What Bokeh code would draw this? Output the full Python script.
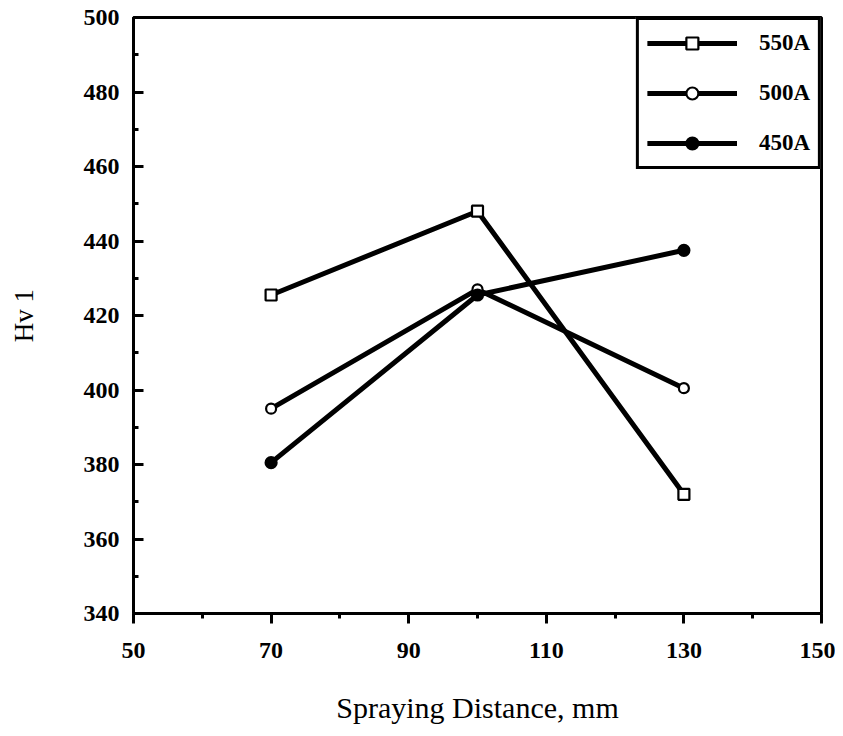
from bokeh.plotting import figure
from bokeh.models import Legend, LegendItem, Range1d, FixedTicker
from bokeh.embed import file_html
from bokeh.resources import INLINE

# ---- data ----
distance = [70, 100, 130]
hv_550 = [425.5, 448.0, 372.0]
hv_500 = [395.0, 427.0, 400.5]
hv_450 = [380.5, 425.5, 437.5]
series_labels = ["550A", "500A", "450A"]
x_ticks = [50, 70, 90, 110, 130, 150]
x_minor = [60, 80, 100, 120, 140]
y_ticks = [340, 360, 380, 400, 420, 440, 460, 480, 500]
y_minor = [350, 370, 390, 410, 430, 450, 470, 490]

FONT = "Liberation Serif"

p = figure(width=835, height=728, output_backend="svg", toolbar_location=None,
           x_range=Range1d(50, 150), y_range=Range1d(340, 500),
           min_border_left=133, min_border_right=14, min_border_top=17, min_border_bottom=115,
           background_fill_color="white", border_fill_color="white")

p.grid.visible = False
p.outline_line_color = "black"
p.outline_line_width = 3

# axes
p.xaxis.ticker = FixedTicker(ticks=x_ticks, minor_ticks=x_minor)
p.yaxis.ticker = FixedTicker(ticks=y_ticks, minor_ticks=y_minor)
for ax in (p.xaxis, p.yaxis):
    ax.axis_line_width = 3
    ax.axis_line_color = "black"
    ax.major_tick_line_width = 3
    ax.minor_tick_line_width = 3
    ax.major_tick_line_color = "black"
    ax.minor_tick_line_color = "black"
    ax.major_label_text_font = FONT
    ax.major_label_text_font_style = "bold"
    ax.major_label_text_font_size = "24px"
    ax.major_label_text_color = "black"
    ax.axis_label_text_font = FONT
    ax.axis_label_text_font_style = "normal"
    ax.axis_label_text_color = "black"

p.xaxis.major_tick_in = 0
p.xaxis.major_tick_out = 10
p.xaxis.minor_tick_in = 0
p.xaxis.minor_tick_out = 5
p.xaxis.major_label_standoff = 19
p.xaxis.axis_label = "Spraying Distance, mm"
p.xaxis.axis_label_text_font_size = "30px"
p.xaxis.axis_label_standoff = 30

p.yaxis.major_tick_in = 10
p.yaxis.major_tick_out = 0
p.yaxis.minor_tick_in = 5
p.yaxis.minor_tick_out = 0
p.yaxis.major_label_standoff = 14
p.yaxis.axis_label = "Hv 1"
p.yaxis.axis_label_text_font_size = "27px"
p.yaxis.axis_label_standoff = 42

# series
series = [
    (hv_550, "square", "white", 11),
    (hv_500, "circle", "white", 10),
    (hv_450, "circle", "black", 11),
]
items = []
for (vals, marker, fill, size), lab in zip(series, series_labels):
    ln = p.line(distance, vals, line_color="black", line_width=5)
    sc = p.scatter(distance, vals, marker=marker, size=size, fill_color=fill,
                   line_color="black", line_width=2.2)
    items.append(LegendItem(label=lab, renderers=[ln, sc]))

legend = Legend(items=items, location="top_right", margin=0,
                border_line_color="black", border_line_width=3, border_line_alpha=1,
                background_fill_color="white", background_fill_alpha=1,
                glyph_width=90, glyph_height=30, spacing=20,
                padding=8, label_standoff=22,
                label_text_font=FONT, label_text_font_style="bold",
                label_text_font_size="23px", label_text_color="black")
p.add_layout(legend)

open("out.html", "w").write(file_html(p, INLINE))
